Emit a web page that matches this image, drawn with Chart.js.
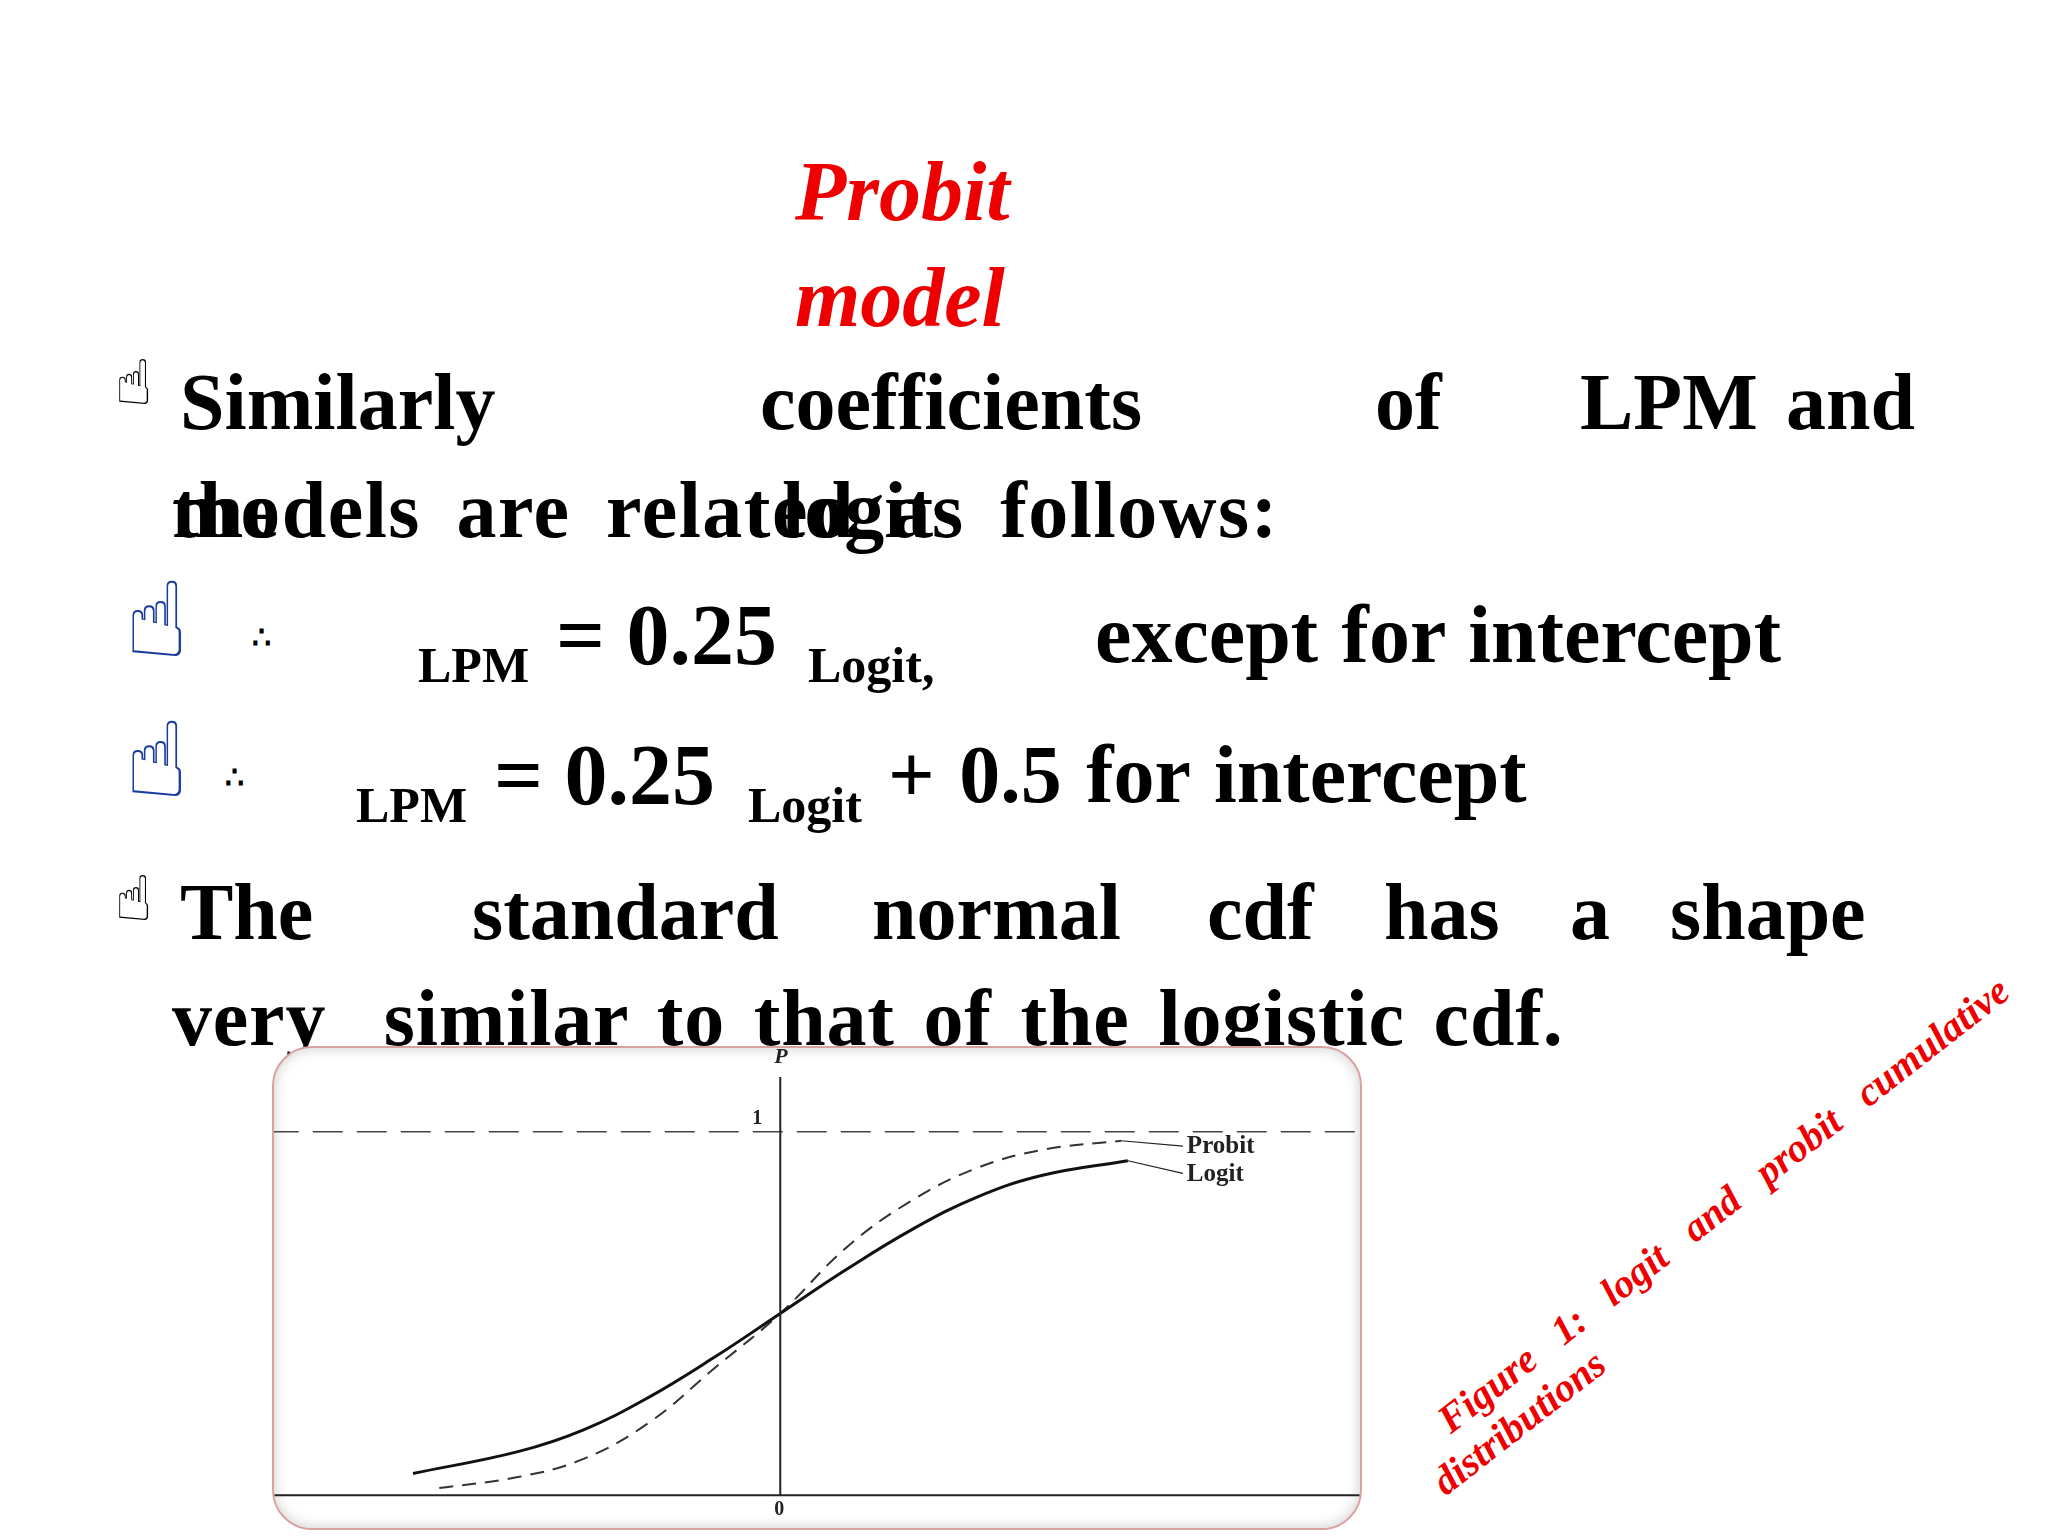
<!DOCTYPE html>
<html><head><meta charset="utf-8">
<script src="https://cdn.jsdelivr.net/npm/chart.js@4/dist/chart.umd.min.js"></script>
<style>
body{margin:0;width:2048px;height:1536px;background:#fff;position:relative;overflow:hidden;font-family:"Liberation Serif",serif}
.t{position:absolute;white-space:nowrap;font-weight:bold;color:#000;line-height:1}
.red{color:#e00;font-style:italic}
.hand{font-family:"DejaVu Sans";font-weight:normal}
#box{position:absolute;left:272px;top:1046px;width:1086px;height:480px;border:2px solid #d9a0a0;border-radius:40px;overflow:hidden;background:#fff;box-shadow:inset 0 0 14px #ccc}
</style></head><body>
<div class="t red" style="left:795px;top:150px;font-size:84px">Probit</div>
<div class="t red" style="left:795px;top:256px;font-size:84px">model</div>

<div class="t hand" style="left:115px;top:352px;font-size:62px">☝︎</div>
<div class="t" style="left:180px;top:362px;font-size:80px">Similarly</div>
<div class="t" style="left:760px;top:362px;font-size:80px">coefficients</div>
<div class="t" style="left:1375px;top:362px;font-size:80px">of</div>
<div class="t" style="left:1580px;top:362px;font-size:80px">LPM</div>
<div class="t" style="left:1786px;top:362px;font-size:80px">and</div>
<div class="t" style="left:172px;top:470px;font-size:80px;word-spacing:14px;letter-spacing:1.5px">models are related as follows:</div>
<div class="t" style="left:172px;top:470px;font-size:80px">the</div>
<div class="t" style="left:782px;top:470px;font-size:80px">logit</div>

<div class="t hand" style="left:125px;top:568px;font-size:104px;color:#1a3c9c">☝︎</div>
<div class="t" style="left:252px;top:622px;font-size:30px">∴</div>
<div class="t" style="left:418px;top:640px;font-size:50px">LPM</div>
<div class="t" style="left:556px;top:592px;font-size:86px">= 0.25</div>
<div class="t" style="left:808px;top:640px;font-size:50px">Logit,</div>
<div class="t" style="left:1095px;top:594px;font-size:82px;word-spacing:3px">except for intercept</div>

<div class="t hand" style="left:125px;top:708px;font-size:104px;color:#1a3c9c">☝︎</div>
<div class="t" style="left:225px;top:762px;font-size:30px">∴</div>
<div class="t" style="left:356px;top:780px;font-size:50px">LPM</div>
<div class="t" style="left:494px;top:732px;font-size:86px">= 0.25</div>
<div class="t" style="left:748px;top:780px;font-size:50px">Logit</div>
<div class="t" style="left:888px;top:734px;font-size:82px;word-spacing:4px">+ 0.5 for intercept</div>

<div class="t hand" style="left:115px;top:868px;font-size:62px">☝︎</div>
<div class="t" style="left:180px;top:872px;font-size:80px">The</div>
<div class="t" style="left:472px;top:872px;font-size:80px">standard</div>
<div class="t" style="left:872px;top:872px;font-size:80px">normal</div>
<div class="t" style="left:1207px;top:872px;font-size:80px">cdf</div>
<div class="t" style="left:1384px;top:872px;font-size:80px">has</div>
<div class="t" style="left:1570px;top:872px;font-size:80px">a</div>
<div class="t" style="left:1670px;top:872px;font-size:80px">shape</div>
<div class="t" style="left:172px;top:978px;font-size:80px;word-spacing:8px;letter-spacing:0.8px">very&nbsp;&nbsp;similar to that of the logistic cdf.</div>

<div id="box"><canvas id="c" width="1086" height="480"></canvas></div>

<div class="t red" style="left:1455px;top:1400px;font-size:40px;transform:rotate(-38deg);transform-origin:0 100%">Figure&nbsp;&nbsp;&nbsp;1:&nbsp;&nbsp;&nbsp;logit&nbsp;&nbsp;&nbsp;and&nbsp;&nbsp;&nbsp;probit&nbsp;&nbsp;&nbsp;cumulative</div>
<div class="t red" style="left:1450px;top:1462px;font-size:40px;transform:rotate(-38deg);transform-origin:0 100%">distributions</div>

<script>
const LOGIT_X = [-2.8, -2, -1.5, -1, -0.5, 0, 0.5, 1, 1.5, 2, 2.65];
const LOGIT_P = [0.06, 0.12, 0.18, 0.27, 0.38, 0.5, 0.62, 0.73, 0.82, 0.88, 0.92];
const PROBIT_X = [-2.6, -2, -1.5, -1, -0.5, 0, 0.5, 1, 1.5, 2, 2.6];
const PROBIT_P = [0.02, 0.05, 0.1, 0.2, 0.35, 0.5, 0.68, 0.81, 0.9, 0.95, 0.975];
const LIMIT_X = [-3.9, 4.5];
const LIMIT_P = [1, 1];

const pts = (xs, ys) => xs.map((x, i) => ({ x, y: ys[i] }));

const decor = {
  id: "decor",
  afterDatasetsDraw(chart) {
    const { ctx, scales: { x, y } } = chart;
    const x0 = x.getPixelForValue(0), y0 = y.getPixelForValue(0);
    ctx.save();
    ctx.strokeStyle = "#222"; ctx.lineWidth = 2;
    ctx.beginPath(); ctx.moveTo(x0, y.getPixelForValue(1.15)); ctx.lineTo(x0, y0); ctx.stroke();
    ctx.beginPath(); ctx.moveTo(0, y0); ctx.lineTo(chart.width, y0); ctx.stroke();
    ctx.fillStyle = "#222"; ctx.font = "bold italic 22px 'Liberation Serif'";
    ctx.fillText("P", x0 - 6, y.getPixelForValue(1.19));
    ctx.font = "bold 20px 'Liberation Serif'";
    ctx.fillText("1", x0 - 28, y.getPixelForValue(1.02));
    ctx.fillText("0", x0 - 6, y0 + 20);
    ctx.font = "bold 25px 'Liberation Serif'";
    const lx = x.getPixelForValue(3.1);
    ctx.fillText("Probit", lx, y.getPixelForValue(0.94));
    ctx.fillText("Logit", lx, y.getPixelForValue(0.865));
    ctx.lineWidth = 1.2;
    ctx.beginPath();
    ctx.moveTo(x.getPixelForValue(2.6), y.getPixelForValue(0.975)); ctx.lineTo(lx - 4, y.getPixelForValue(0.96));
    ctx.moveTo(x.getPixelForValue(2.65), y.getPixelForValue(0.92)); ctx.lineTo(lx - 4, y.getPixelForValue(0.885));
    ctx.stroke();
    ctx.restore();
  }
};

new Chart(document.getElementById("c"), {
  type: "scatter",
  data: { datasets: [
    { data: pts(LOGIT_X, LOGIT_P), showLine: true, borderColor: "#111", borderWidth: 3, pointRadius: 0, tension: 0.4 },
    { data: pts(PROBIT_X, PROBIT_P), showLine: true, borderColor: "#333", borderWidth: 2, borderDash: [14, 9], pointRadius: 0, tension: 0.4 },
    { data: pts(LIMIT_X, LIMIT_P), showLine: true, borderColor: "#444", borderWidth: 1.5, borderDash: [30, 14], pointRadius: 0 }
  ] },
  options: {
    responsive: false, animation: false, layout: { padding: 0 },
    plugins: { legend: { display: false }, tooltip: { enabled: false } },
    scales: {
      x: { display: false, min: -3.86, max: 4.42 },
      y: { display: false, min: -0.09, max: 1.23 }
    }
  },
  plugins: [decor]
});
</script>
</body></html>
